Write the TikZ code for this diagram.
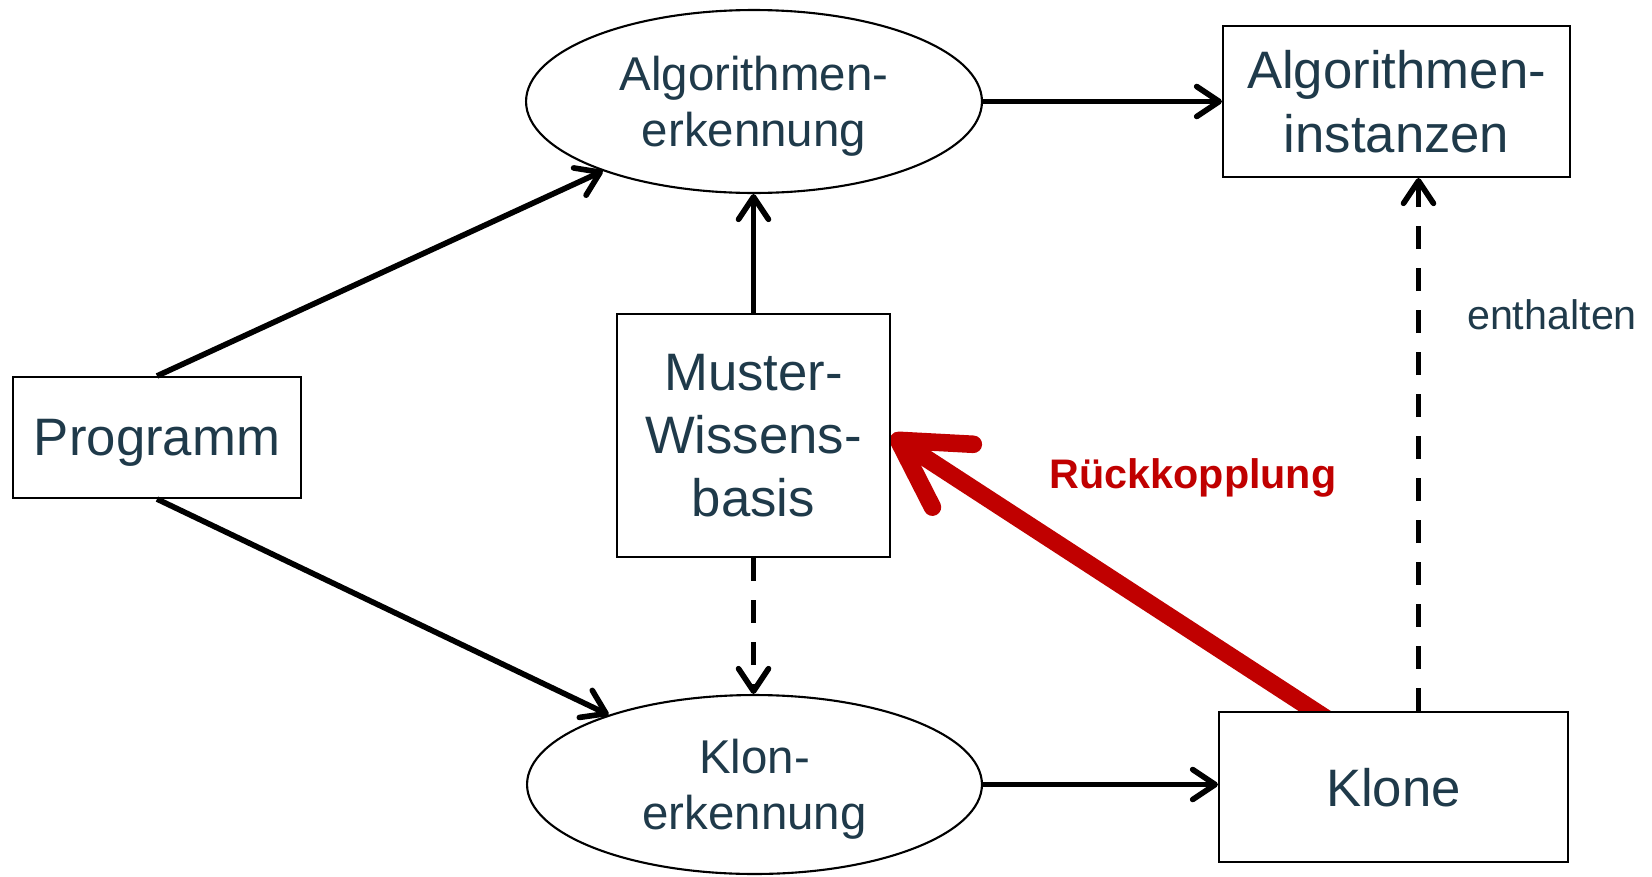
\documentclass[tikz,border=0pt]{standalone}
\usepackage{fontspec}
\setmainfont{Liberation Sans}
\newcommand*{\boxfont}{\fontsize{30}{36}\selectfont}
\newcommand*{\ovalfont}{\fontsize{27}{32}\selectfont}
\newcommand*{\notefont}{\fontsize{23.5}{28}\selectfont}
\usepackage{tikz}
\definecolor{ink}{RGB}{31,58,74}
\definecolor{feedback}{RGB}{192,0,0}
\usetikzlibrary{arrows.meta}
\usetikzlibrary{positioning}
\usetikzlibrary{shapes.geometric}
\usetikzlibrary{backgrounds}
\tikzstyle{sheet}=[x=0.02cm, y=-0.02cm]
\tikzstyle{block}=[draw=black, fill=white, line width=1.2pt, text=ink, align=center, inner sep=0pt, text depth=0pt, font=\boxfont]
\tikzstyle{oval}=[block, ellipse, font=\ovalfont]
\tikzstyle{flow}=[line width=3.2pt, -{Straight Barb[length=0.45cm,width=0.6cm,round]}]
\tikzstyle{weak}=[flow, dash pattern=on 0.46cm off 0.38cm]

\begin{document}
\begin{tikzpicture}[sheet]
    \useasboundingbox (0,0) rectangle (1652,876);
    \node [block, minimum width=5.76cm, minimum height=2.42cm] (prog) at (157,437.5) {Programm};
    \node [oval, minimum width=9.12cm, minimum height=3.66cm] (algerk) at (754,101.5) {Algorithmen-\\erkennung};
    \node [block, minimum width=6.94cm, minimum height=3.02cm] (inst) at (1396.5,101.5) {Algorithmen-\\instanzen};
    \node [block, minimum width=5.46cm, minimum height=4.86cm] (muster) at (753.5,435.5) {Muster-\\Wissens-\\basis};
    \node [oval, minimum width=9.1cm, minimum height=3.58cm] (klonerk) at (754.5,784.5) {Klon-\\erkennung};
    \node [block, minimum width=6.98cm, minimum height=3cm] (klone) at (1393.5,787) {Klone};
    \node [text=ink, font=\notefont, text depth=0pt] (enth) at (1552,315) {enthalten};
    \node [text=feedback, font=\notefont\bfseries, text depth=0pt] (rueck) at (1193,474) {Rückkopplung};
        \draw [flow] (prog.north) -- (algerk);
        \draw [flow] (prog.south) -- (klonerk);
        \draw [flow] (algerk) -- (inst);
        \draw [flow] (klonerk.east) -- (klonerk.east -| klone.west);
        \draw [flow] (muster.north) -- (muster.north |- algerk.south);
        \draw [weak] (muster.south) -- (muster.south |- klonerk.north);
        \draw [weak] ([xshift=0.5cm]klone.north) -- ([xshift=0.5cm]klone.north |- inst.south);
    \begin{scope}[on background layer]
        \draw [feedback, line width=10pt, -{Straight Barb[length=1.3cm,width=1.5cm,round]}] ([xshift=-1.27cm, yshift=-0.2cm]klone.north) -- (muster.east);
    \end{scope}
\end{tikzpicture}
\end{document}
